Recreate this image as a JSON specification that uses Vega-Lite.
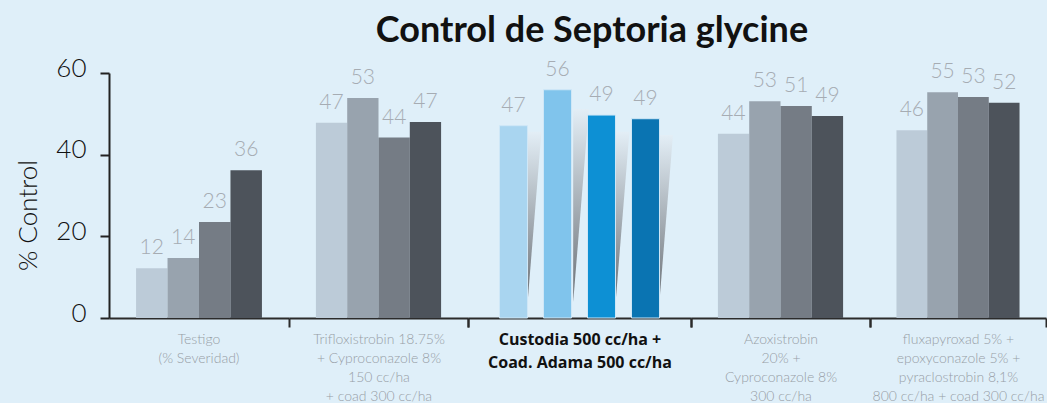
{
  "$schema": "https://vega.github.io/schema/vega-lite/v6.json",
  "background": "#dfeff9",
  "padding": {"left": 15, "top": 13, "right": 0, "bottom": 0},
  "title": {"text": "Control de Septoria glycine", "font": "Lato", "fontSize": 36, "fontWeight": "bold", "color": "#111111", "anchor": "middle", "dx": 61, "offset": 5},
  "data": {"values": [
    {"tratamiento": "Testigo|(% Severidad)", "serie": 1, "valor": 12.2, "etiqueta": "12"},
    {"tratamiento": "Testigo|(% Severidad)", "serie": 2, "valor": 14.7, "etiqueta": "14"},
    {"tratamiento": "Testigo|(% Severidad)", "serie": 3, "valor": 23.5, "etiqueta": "23"},
    {"tratamiento": "Testigo|(% Severidad)", "serie": 4, "valor": 36.2, "etiqueta": "36"},
    {"tratamiento": "Trifloxistrobin 18.75%|+ Cyproconazole 8%|150 cc/ha|+ coad 300 cc/ha", "serie": 1, "valor": 47.8, "etiqueta": "47"},
    {"tratamiento": "Trifloxistrobin 18.75%|+ Cyproconazole 8%|150 cc/ha|+ coad 300 cc/ha", "serie": 2, "valor": 53.9, "etiqueta": "53"},
    {"tratamiento": "Trifloxistrobin 18.75%|+ Cyproconazole 8%|150 cc/ha|+ coad 300 cc/ha", "serie": 3, "valor": 44.2, "etiqueta": "44"},
    {"tratamiento": "Trifloxistrobin 18.75%|+ Cyproconazole 8%|150 cc/ha|+ coad 300 cc/ha", "serie": 4, "valor": 48.0, "etiqueta": "47"},
    {"tratamiento": "Custodia 500 cc/ha +|Coad. Adama 500 cc/ha", "serie": 1, "valor": 47.1, "etiqueta": "47", "sombra": 45.6},
    {"tratamiento": "Custodia 500 cc/ha +|Coad. Adama 500 cc/ha", "serie": 2, "valor": 55.9, "etiqueta": "56", "sombra": 51.2},
    {"tratamiento": "Custodia 500 cc/ha +|Coad. Adama 500 cc/ha", "serie": 3, "valor": 49.7, "etiqueta": "49", "sombra": 45.6},
    {"tratamiento": "Custodia 500 cc/ha +|Coad. Adama 500 cc/ha", "serie": 4, "valor": 48.8, "etiqueta": "49", "sombra": 44.8},
    {"tratamiento": "Azoxistrobin|20% +|Cyproconazole 8%|300 cc/ha", "serie": 1, "valor": 45.1, "etiqueta": "44"},
    {"tratamiento": "Azoxistrobin|20% +|Cyproconazole 8%|300 cc/ha", "serie": 2, "valor": 53.1, "etiqueta": "53"},
    {"tratamiento": "Azoxistrobin|20% +|Cyproconazole 8%|300 cc/ha", "serie": 3, "valor": 51.9, "etiqueta": "51"},
    {"tratamiento": "Azoxistrobin|20% +|Cyproconazole 8%|300 cc/ha", "serie": 4, "valor": 49.5, "etiqueta": "49"},
    {"tratamiento": "fluxapyroxad 5% +|epoxyconazole 5% +|pyraclostrobin 8,1%|800 cc/ha + coad 300 cc/ha", "serie": 1, "valor": 46.0, "etiqueta": "46"},
    {"tratamiento": "fluxapyroxad 5% +|epoxyconazole 5% +|pyraclostrobin 8,1%|800 cc/ha + coad 300 cc/ha", "serie": 2, "valor": 55.3, "etiqueta": "55"},
    {"tratamiento": "fluxapyroxad 5% +|epoxyconazole 5% +|pyraclostrobin 8,1%|800 cc/ha + coad 300 cc/ha", "serie": 3, "valor": 54.1, "etiqueta": "53"},
    {"tratamiento": "fluxapyroxad 5% +|epoxyconazole 5% +|pyraclostrobin 8,1%|800 cc/ha + coad 300 cc/ha", "serie": 4, "valor": 52.7, "etiqueta": "52"}
  ]},
  "spacing": 0,
  "bounds": "flush",
  "resolve": {"scale": {"x": "independent", "xOffset": "independent", "color": "independent", "y": "independent", "size": "independent"}},
  "hconcat": [
    {
      "width": 180, "height": 245,
      "transform": [{"filter": {"field": "tratamiento", "equal": "Testigo|(% Severidad)"}}],
      "encoding": {
        "x": {"field": "tratamiento", "type": "nominal", "scale": {"paddingInner": 0, "paddingOuter": 0}, "axis": {"title": null, "labelExpr": "split(datum.label, '|')", "ticks": false, "labelAngle": 0, "labelFont": "Lato", "labelFontSize": 14, "labelFontWeight": 300, "labelColor": "#979ea6", "labelLineHeight": 19, "labelPadding": 14, "labelLimit": 0, "labelBound": false, "labelOverlap": false, "domainColor": "#2b2b2b", "domainWidth": 2}},
        "xOffset": {"field": "serie", "type": "nominal", "scale": {"paddingInner": 0, "paddingOuter": 0.86}},
        "y": {"field": "valor", "type": "quantitative", "scale": {"domain": [0, 60], "nice": false}, "axis": {"title": "% Control", "values": [0, 20, 40, 60], "grid": false, "labelFont": "Lato", "labelFontSize": 26, "labelFontWeight": 300, "labelColor": "#111111", "labelPadding": 14, "labelBaseline": "alphabetic", "labelOffset": 3, "tickSize": 9, "tickWidth": 2, "tickColor": "#222222", "domainColor": "#222222", "domainWidth": 2, "titleFont": "Lato", "titleFontSize": 26, "titleFontWeight": 300, "titleColor": "#111111", "titleAngle": -90, "titleX": -81, "titleY": 142, "titleAlign": "center", "titleBaseline": "middle"}}
      },
      "layer": [
        {"mark": {"type": "bar"}, "encoding": {"color": {"field": "serie", "type": "nominal", "scale": {"range": ["#bccbd8", "#98a3ae", "#757c85", "#4d535b"]}, "legend": null}}},
        {"mark": {"type": "text", "font": "Lato", "fontSize": 21, "fontWeight": 300, "color": "#a6acb3", "baseline": "alphabetic", "dy": -14}, "encoding": {"text": {"field": "etiqueta"}}}
      ]
    },
    {
      "width": 179, "height": 245,
      "transform": [{"filter": {"field": "tratamiento", "equal": "Trifloxistrobin 18.75%|+ Cyproconazole 8%|150 cc/ha|+ coad 300 cc/ha"}}],
      "encoding": {
        "x": {"field": "tratamiento", "type": "nominal", "scale": {"paddingInner": 0, "paddingOuter": 0}, "axis": {"title": null, "labelExpr": "split(datum.label, '|')", "tickBand": "extent", "tickSize": 9, "tickWidth": 2, "tickColor": "#2b2b2b", "labelAngle": 0, "labelFont": "Lato", "labelFontSize": 14, "labelFontWeight": 300, "labelColor": "#979ea6", "labelLineHeight": 19, "labelPadding": 5, "labelLimit": 0, "labelBound": false, "labelOverlap": false, "domainColor": "#2b2b2b", "domainWidth": 2}},
        "xOffset": {"field": "serie", "type": "nominal", "scale": {"paddingInner": 0, "paddingOuter": 0.86}},
        "y": {"field": "valor", "type": "quantitative", "scale": {"domain": [0, 60], "nice": false}, "axis": null}
      },
      "layer": [
        {"mark": {"type": "bar"}, "encoding": {"color": {"field": "serie", "type": "nominal", "scale": {"range": ["#bccbd8", "#98a3ae", "#757c85", "#4d535b"]}, "legend": null}}},
        {"mark": {"type": "text", "font": "Lato", "fontSize": 21, "fontWeight": 300, "color": "#a6acb3", "baseline": "alphabetic", "dy": -14}, "encoding": {"text": {"field": "etiqueta"}}}
      ]
    },
    {
      "width": 223, "height": 245,
      "transform": [{"filter": {"field": "tratamiento", "equal": "Custodia 500 cc/ha +|Coad. Adama 500 cc/ha"}}],
      "encoding": {
        "x": {"field": "tratamiento", "type": "nominal", "scale": {"paddingInner": 0, "paddingOuter": 0}, "axis": {"title": null, "labelExpr": "split(datum.label, '|')", "tickBand": "extent", "tickSize": 9, "tickWidth": 2, "tickColor": "#2b2b2b", "labelAngle": 0, "labelFont": "Open Sans", "labelFontSize": 16, "labelFontWeight": "bold", "labelColor": "#111111", "labelLineHeight": 23, "labelPadding": 4, "labelLimit": 0, "labelBound": false, "labelOverlap": false, "domainColor": "#2b2b2b", "domainWidth": 2}},
        "xOffset": {"field": "serie", "type": "nominal", "scale": {"paddingInner": 0.364, "paddingOuter": 0.716}},
        "y": {"field": "valor", "type": "quantitative", "scale": {"domain": [0, 60], "nice": false}, "axis": null}
      },
      "layer": [
        {"mark": {"type": "point", "shape": "M0.15,-0.15L0.15,-2L0.3,-2Z", "filled": true, "opacity": 1, "strokeWidth": 0, "fill": {"gradient": "linear", "x1": 0, "y1": 0, "x2": 0, "y2": 1, "stops": [{"offset": 0, "color": "#e3eef6"}, {"offset": 1, "color": "#6a6f75"}]}},
         "encoding": {"y": {"datum": 0}, "size": {"field": "sombra", "type": "quantitative", "scale": {"type": "pow", "exponent": 2, "domain": [0, 60], "range": [0, 60025]}, "legend": null}}},
        {"mark": {"type": "bar", "stroke": "#cfe7f7", "strokeWidth": 1}, "encoding": {"color": {"field": "serie", "type": "nominal", "scale": {"range": ["#a9d5f0", "#80c4ec", "#0d90d4", "#0a74b2"]}, "legend": null}}},
        {"mark": {"type": "text", "font": "Lato", "fontSize": 21, "fontWeight": 300, "color": "#a6acb3", "baseline": "alphabetic", "dy": -14}, "encoding": {"text": {"field": "etiqueta"}}}
      ]
    },
    {
      "width": 179, "height": 245,
      "transform": [{"filter": {"field": "tratamiento", "equal": "Azoxistrobin|20% +|Cyproconazole 8%|300 cc/ha"}}],
      "encoding": {
        "x": {"field": "tratamiento", "type": "nominal", "scale": {"paddingInner": 0, "paddingOuter": 0}, "axis": {"title": null, "labelExpr": "split(datum.label, '|')", "tickBand": "extent", "tickSize": 9, "tickWidth": 2, "tickColor": "#2b2b2b", "labelAngle": 0, "labelFont": "Lato", "labelFontSize": 14, "labelFontWeight": 300, "labelColor": "#979ea6", "labelLineHeight": 19, "labelPadding": 5, "labelLimit": 0, "labelBound": false, "labelOverlap": false, "domainColor": "#2b2b2b", "domainWidth": 2}},
        "xOffset": {"field": "serie", "type": "nominal", "scale": {"paddingInner": 0, "paddingOuter": 0.86}},
        "y": {"field": "valor", "type": "quantitative", "scale": {"domain": [0, 60], "nice": false}, "axis": null}
      },
      "layer": [
        {"mark": {"type": "bar"}, "encoding": {"color": {"field": "serie", "type": "nominal", "scale": {"range": ["#bccbd8", "#98a3ae", "#757c85", "#4d535b"]}, "legend": null}}},
        {"mark": {"type": "text", "font": "Lato", "fontSize": 21, "fontWeight": 300, "color": "#a6acb3", "baseline": "alphabetic", "dy": -14}, "encoding": {"text": {"field": "etiqueta"}}}
      ]
    },
    {
      "width": 176, "height": 245,
      "transform": [{"filter": {"field": "tratamiento", "equal": "fluxapyroxad 5% +|epoxyconazole 5% +|pyraclostrobin 8,1%|800 cc/ha + coad 300 cc/ha"}}],
      "encoding": {
        "x": {"field": "tratamiento", "type": "nominal", "scale": {"paddingInner": 0, "paddingOuter": 0}, "axis": {"title": null, "labelExpr": "split(datum.label, '|')", "tickBand": "extent", "tickSize": 9, "tickWidth": 2, "tickColor": "#2b2b2b", "labelAngle": 0, "labelFont": "Lato", "labelFontSize": 14, "labelFontWeight": 300, "labelColor": "#979ea6", "labelLineHeight": 19, "labelPadding": 5, "labelLimit": 0, "labelBound": false, "labelOverlap": false, "domainColor": "#2b2b2b", "domainWidth": 2}},
        "xOffset": {"field": "serie", "type": "nominal", "scale": {"paddingInner": 0, "paddingOuter": 0.86}},
        "y": {"field": "valor", "type": "quantitative", "scale": {"domain": [0, 60], "nice": false}, "axis": null}
      },
      "layer": [
        {"mark": {"type": "bar"}, "encoding": {"color": {"field": "serie", "type": "nominal", "scale": {"range": ["#bccbd8", "#98a3ae", "#757c85", "#4d535b"]}, "legend": null}}},
        {"mark": {"type": "text", "font": "Lato", "fontSize": 21, "fontWeight": 300, "color": "#a6acb3", "baseline": "alphabetic", "dy": -14}, "encoding": {"text": {"field": "etiqueta"}}}
      ]
    }
  ],
  "config": {"view": {"stroke": null}}
}
